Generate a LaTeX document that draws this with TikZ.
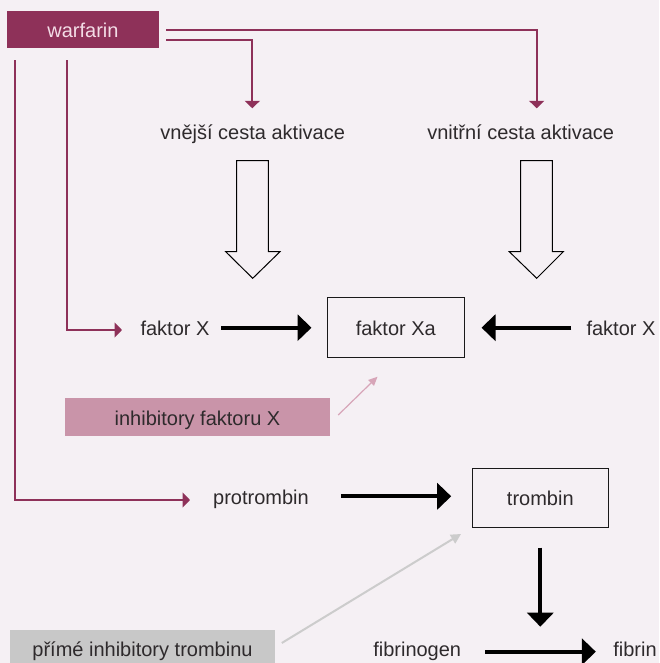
\documentclass[tikz,border=0pt]{standalone}
\usepackage{fontspec}
\setmainfont{Liberation Sans}
\usetikzlibrary{arrows.meta,calc}
\definecolor{bg}{HTML}{F5F0F4}
\definecolor{wine}{HTML}{8E3159}
\definecolor{winetext}{HTML}{F3DCE6}
\definecolor{pinkbox}{HTML}{C994A9}
\definecolor{graybox}{HTML}{C8C8C8}
\definecolor{txt}{HTML}{2E2A2C}
\definecolor{pinkarrow}{HTML}{D7A5B8}
\definecolor{grayarrow}{HTML}{CCCCCC}
\begin{document}
\begin{tikzpicture}[x=1pt,y=-1pt,
  lbl/.style={inner sep=0pt, text height=16pt, text depth=0pt, font=\fontsize{20}{24}\selectfont, text=txt},
  box/.style={lbl, draw=black!90, line width=1pt},
  pl/.style={draw=wine, line width=2pt, -{Triangle[width=15pt,length=7.5pt]}},
  blk/.style={draw=black, line width=4pt, -{Triangle[width=26pt,length=14pt]}},
  pinkarr/.style={draw=pinkarrow, line width=1.2pt, -{Triangle[width=8pt,length=9pt]}},
  grayarr/.style={draw=grayarrow, line width=2pt, -{Triangle[width=10pt,length=10pt]}},
  hollow/.style={draw=black, line width=1pt, line join=miter}]
\fill[bg] (0,0) rectangle (659,663);
\useasboundingbox (0,0) rectangle (659,663);

\node[lbl, fill=wine, text=winetext, minimum width=152pt, minimum height=37.5pt] (war) at (83,29.75) {warfarin};
\node[lbl] (ve) at (252.7,132) {vnější cesta aktivace};
\node[lbl] (vi) at (520.7,132) {vnitřní cesta aktivace};
\node[lbl] (fxl) at (175,327.7) {faktor X};
\node[box, minimum width=137pt, minimum height=60.4pt] (fxa) at (395.8,327.5) {faktor Xa};
\node[lbl] (fxr) at (621,327.7) {faktor X};
\node[lbl, fill=pinkbox, minimum width=265pt, minimum height=37.4pt] (inh) at (197.5,417) {inhibitory faktoru X};
\node[lbl] (pro) at (261,496.3) {protrombin};
\node[box, minimum width=136.6pt, minimum height=59.7pt] (trb) at (540.3,497.85) {trombin};
\node[lbl] (fg) at (417.2,648.7) {fibrinogen};
\node[lbl] (fb) at (635,648.7) {fibrin};
\node[lbl, fill=graybox, minimum width=265pt, minimum height=37.4pt] (gr) at (142.5,648.7) {přímé inhibitory trombinu};

\coordinate (tipVe) at (252.3,108.3);
\coordinate (tipVi) at (536.7,108.3);
\coordinate (tipFx) at (122,330);
\coordinate (tipPro) at (190,500);
\coordinate (tipFib) at (540.3,626.7);
\coordinate (tipInhX) at (377.5,376.7);
\coordinate (tipTrb) at (461,534);

\draw[pl] ([xshift=7pt]war.east) -| (tipVi);
\draw[pl] ([xshift=7pt,yshift=-10pt]war.east) -| (tipVe);
\draw[pl] ([xshift=60.5pt,yshift=-11.5pt]war.south west) |- (tipFx);
\draw[pl] ([xshift=8.5pt,yshift=-11.5pt]war.south west) |- (tipPro);

\draw[hollow] (236.7,160.7) -- (268.3,160.7) -- (268.3,251.7) -- (280,251.7) -- (252.7,278.3) -- (225.7,251.7) -- (236.7,251.7) -- cycle;
\draw[hollow] (520.7,160.7) -- (552.3,160.7) -- (552.3,251.7) -- (563.3,251.7) -- (536.7,278.3) -- (509.3,251.7) -- (520.7,251.7) -- cycle;

\draw[blk] ($(fxl.east)+(11.7,0)$) -- ($(fxa.west|-fxl.east)+(-15.3,0)$);
\draw[blk] ($(fxr.west)+(-15,0)$) -- ($(fxa.east|-fxr.west)+(16.7,0)$);
\draw[blk] ($(pro.east)+(31.9,0)$) -- ($(trb.west|-pro.east)+(-20.3,0)$);
\draw[blk] ($(trb.south)+(0,19.3)$) -- (tipFib);
\draw[blk] ($(fg.east)+(24,3)$) -- ($(fb.west)+(-17.3,3)$);

\draw[pinkarr] ($(inh.east)+(8,-2)$) -- (tipInhX);
\draw[grayarr] ($(gr.east)+(6.6,-5.7)$) -- (tipTrb);
\end{tikzpicture}
\end{document}
